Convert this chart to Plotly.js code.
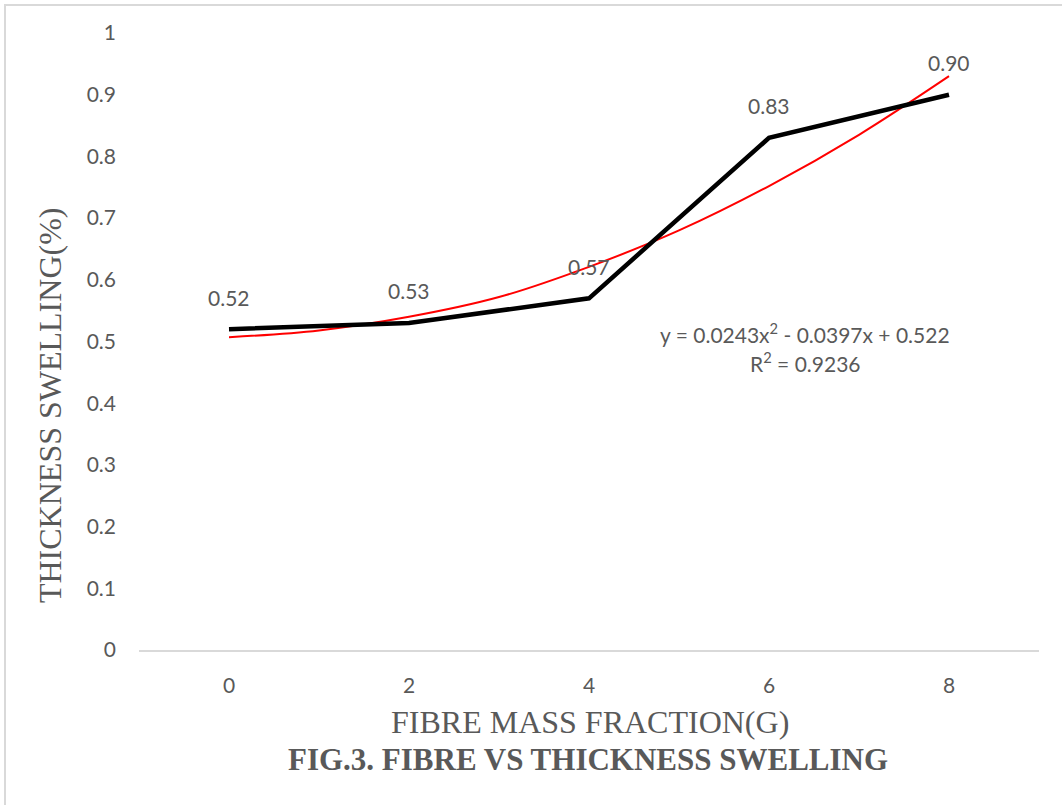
<!DOCTYPE html>
<html>
<head>
<meta charset="utf-8">
<script src="https://cdn.plot.ly/plotly-3.0.1.min.js"></script>
<style>
html,body{margin:0;padding:0;background:#fff;}
#chart{width:1062px;height:805px;}
</style>
</head>
<body>
<div id="chart"></div>
<script>
// Data
const fibreMass = [0, 2, 4, 6, 8];
const swelling = [0.52, 0.53, 0.57, 0.83, 0.90];
const swellingLabels = ["0.52", "0.53", "0.57", "0.83", "0.90"];
// Trendline
const trendX = [0, 1, 2, 3, 4, 5, 6, 7, 8];
const trendY = [0.507, 0.518, 0.540, 0.572, 0.621, 0.680, 0.752, 0.835, 0.930];
const xTicks = [0, 2, 4, 6, 8];
const yTicks = [0, 0.1, 0.2, 0.3, 0.4, 0.5, 0.6, 0.7, 0.8, 0.9, 1];
const yTickText = ["0", "0.1", "0.2", "0.3", "0.4", "0.5", "0.6", "0.7", "0.8", "0.9", "1"];

const gray = '#595959';
const sans = 'Lato, "Noto Sans", sans-serif';
const tickFont = {family: sans, size: 21, color: gray};
const serif = '"Liberation Serif", "Times New Roman", serif';

const traces = [
  {
    x: trendX, y: trendY, mode: 'lines', type: 'scatter',
    line: {color: '#ff0000', width: 2, shape: 'spline', smoothing: 1},
    hoverinfo: 'skip', showlegend: false
  },
  {
    x: fibreMass, y: swelling, mode: 'lines', type: 'scatter',
    line: {color: '#000000', width: 4.5},
    showlegend: false
  }
];

const annotations = fibreMass.map((x, i) => ({
  x: x, y: swelling[i], xref: 'x', yref: 'y',
  text: swellingLabels[i], showarrow: false, yshift: 32,
  xanchor: 'center', yanchor: 'middle',
  font: {family: sans, size: 21, color: gray}
}));

annotations.push(
  {x: 6.4, y: 0.514, xref: 'x', yref: 'y', text: 'y = 0.0243x<sup>2</sup> - 0.0397x + 0.522',
   xanchor: 'center', yanchor: 'middle',
   showarrow: false, font: {family: sans, size: 21, color: gray}},
  {x: 6.4, y: 0.467, xref: 'x', yref: 'y', text: 'R<sup>2</sup> = 0.9236',
   xanchor: 'center', yanchor: 'middle',
   showarrow: false, font: {family: sans, size: 21, color: gray}},
  {x: -0.0989, y: 0.397, xref: 'paper', yref: 'paper', text: 'THICKNESS SWELLING(%)',
   xanchor: 'center', yanchor: 'middle',
   textangle: -90, showarrow: false, font: {family: serif, size: 32, color: gray}},
  {x: 0.501, y: -0.1167, xref: 'paper', yref: 'paper', text: 'FIBRE MASS FRACTION(G)',
   xanchor: 'center', yanchor: 'middle',
   showarrow: false, font: {family: serif, size: 32, color: gray}},
  {x: 0.499, y: -0.178, xref: 'paper', yref: 'paper', text: '<b>FIG.3. FIBRE VS THICKNESS SWELLING</b>',
   xanchor: 'center', yanchor: 'middle',
   showarrow: false, font: {family: serif, size: 31, color: gray}}
);

const layout = {
  width: 1062, height: 805,
  margin: {l: 139, r: 23, t: 33, b: 155},
  paper_bgcolor: '#ffffff', plot_bgcolor: '#ffffff',
  xaxis: {
    range: [-1, 9], tickvals: xTicks, ticktext: xTicks.map(String),
    showgrid: false, zeroline: false, showline: true, linecolor: '#d9d9d9', linewidth: 2,
    ticks: '', tickfont: tickFont, ticklabelstandoff: 16
  },
  yaxis: {
    range: [0, 1], tickvals: yTicks, ticktext: yTickText,
    showgrid: false, zeroline: false, showline: false,
    ticks: '', tickfont: tickFont, ticklabelstandoff: 22
  },
  annotations: annotations,
  shapes: [{
    type: 'rect', xref: 'paper', yref: 'paper',
    x0: -0.1489, x1: 1.06, y0: -0.28, y1: 1.0454,
    line: {color: '#d9d9d9', width: 2}, fillcolor: 'rgba(0,0,0,0)', layer: 'below'
  }],
  showlegend: false
};

Plotly.newPlot('chart', traces, layout, {displayModeBar: false, staticPlot: true});
</script>
</body>
</html>
